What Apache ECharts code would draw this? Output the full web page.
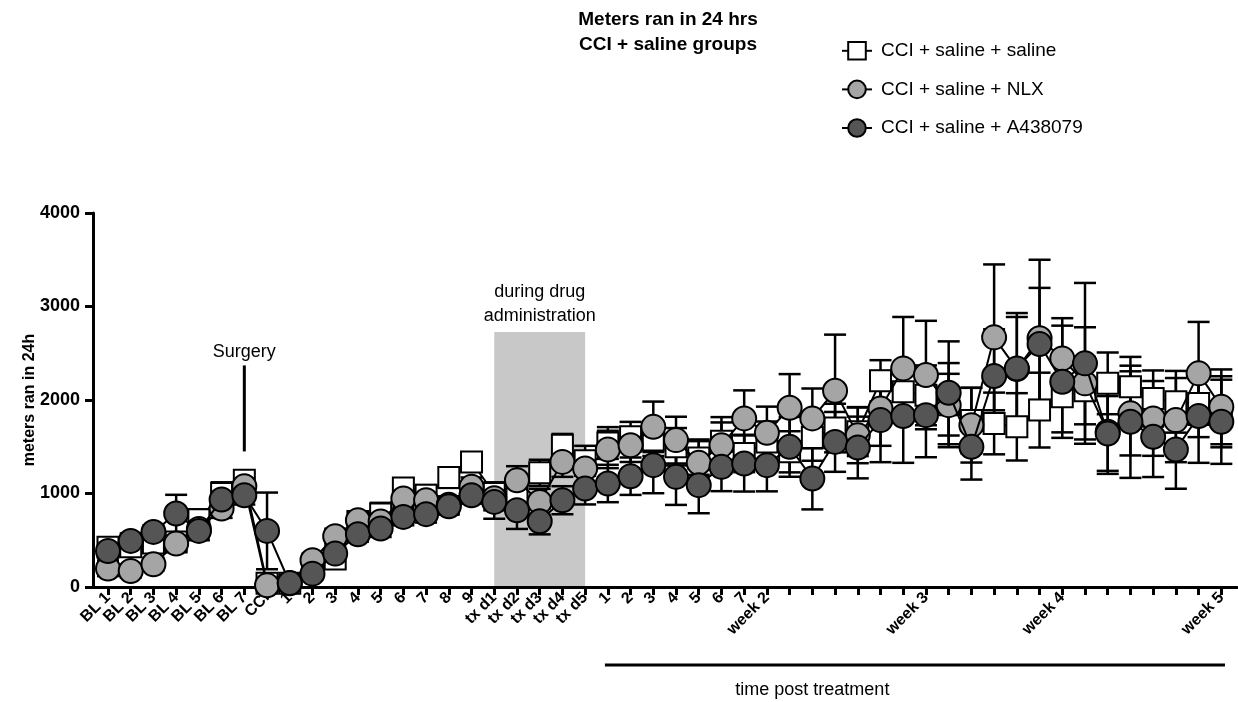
<!DOCTYPE html>
<html>
<head>
<meta charset="utf-8">
<script src="https://cdn.jsdelivr.net/npm/echarts@6/dist/echarts.min.js"></script>
<style>
html,body{margin:0;padding:0;background:#fff;}
#c{width:1238px;height:702px;}
</style>
</head>
<body>
<div id="c"></div>
<script>
// ---- data ----
const categories = [
  'BL 1','BL 2','BL 3','BL 4','BL 5','BL 6','BL 7','CCI',
  '1','2','3','4','5','6','7','8','9',
  'tx d1','tx d2','tx d3','tx d4','tx d5',
  '1','2','3','4','5','6','7','week 2',
  '','','','','','','week 3',
  '','','','','','week 4',
  '','','','','','','week 5'
];
const seriesNames = ['CCI + saline + saline', 'CCI + saline + NLX', 'CCI + saline + A438079'];
const yTicks = [0, 1000, 2000, 3000, 4000];
const salineMean = [425,430,470,482,720,1000,1142,40,40,230,300,700,780,1060,980,1170,1338,1000,1000,1221,1517,1350,
  1540,1606,1571,1500,1380,1560,1428,1550,1446,1600,1700,1660,2206,2088,2050,1950,1780,1749,1713,1892,2034,2100,2178,2141,2016,1981,1963,1874];
const salineErr = [80,70,90,100,110,120,80,60,60,90,90,110,120,100,110,110,100,120,130,140,120,160,
  170,160,170,200,180,200,200,220,220,250,260,260,220,300,320,330,350,330,360,400,380,360,330,320,300,330,360,380];
const nlxMean = [197,171,243,465,620,839,1078,18,40,286,543,714,700,946,928,880,1071,950,1142,910,1338,1268,
  1471,1517,1713,1571,1328,1517,1803,1649,1917,1803,2099,1624,1910,2338,2267,1945,1731,2670,2330,2660,2445,2178,1660,1857,1803,1785,2285,1927];
const nlxErr = [80,70,70,80,90,100,90,30,30,70,80,90,90,90,90,90,100,130,150,140,160,170,
  200,180,270,250,250,300,300,280,360,320,600,300,400,550,580,450,400,780,600,840,430,600,450,450,400,450,550,400];
const a438Mean = [385,493,589,786,600,936,982,600,43,143,357,564,625,750,779,864,982,910,821,703,928,1053,
  1107,1185,1303,1178,1089,1285,1321,1303,1499,1160,1552,1492,1785,1828,1838,2077,1499,2256,2338,2599,2195,2392,1642,1767,1606,1471,1828,1767];
const a438Err = [100,80,70,200,100,100,100,410,30,60,80,80,90,90,90,90,90,180,200,140,150,170,
  200,200,300,300,300,260,300,280,320,330,320,330,450,500,450,550,350,500,550,600,600,860,400,600,430,420,500,450];
const drugBand = [[17, 21, 2727]]; // start index, end index, top value

// ---- chart ----
const chart = echarts.init(document.getElementById('c'), null, {renderer: 'canvas'});
const idx = categories.map((_, i) => i);
const labelIdx = idx.filter(i => categories[i] !== '');
const FONT = '"Liberation Sans", Arial, Helvetica, sans-serif';

function toPts(arr) { return arr.map((v, i) => [i, v]); }
function toErr(m, e) { return m.map((v, i) => [i, v, e[i]]); }

function errRender(params, api) {
  const x = api.value(0), m = api.value(1), e = api.value(2);
  const top = api.coord([x, m + e]);
  const bot = api.coord([x, Math.max(0, m - e)]);
  const hw = 11;
  const st = {stroke: '#000', lineWidth: 2.5};
  return {
    type: 'group',
    children: [
      {type: 'line', shape: {x1: top[0], y1: top[1], x2: bot[0], y2: bot[1]}, style: st},
      {type: 'line', shape: {x1: top[0] - hw, y1: top[1], x2: top[0] + hw, y2: top[1]}, style: st},
      {type: 'line', shape: {x1: bot[0] - hw, y1: bot[1], x2: bot[0] + hw, y2: bot[1]}, style: st}
    ]
  };
}

const colors = ['#ffffff', '#a5a5a5', '#555555'];
const symbols = ['rect', 'circle', 'circle'];
const sizes = [21, 24, 24];
const means = [salineMean, nlxMean, a438Mean];
const errs = [salineErr, nlxErr, a438Err];

const series = [];
series.push({
  type: 'custom', name: 'band', z: 0, silent: true,
  data: drugBand,
  renderItem: function (params, api) {
    const p1 = api.coord([api.value(0), api.value(2)]);
    const p2 = api.coord([api.value(1), 0]);
    return {type: 'rect', shape: {x: p1[0], y: p1[1], width: p2[0] - p1[0], height: p2[1] - p1[1]}, style: {fill: '#c8c8c8'}};
  }
});
for (let k = 0; k < 3; k++) {
  series.push({
    type: 'custom', name: seriesNames[k] + ' err', z: 1, silent: true,
    data: toErr(means[k], errs[k]),
    encode: {x: 0, y: 1},
    renderItem: errRender
  });
}
for (let k = 0; k < 3; k++) {
  series.push({
    type: 'line', name: seriesNames[k], z: 2 + k,
    data: toPts(means[k]),
    symbol: symbols[k], symbolSize: sizes[k], showAllSymbol: true,
    lineStyle: {color: '#000', width: 2},
    itemStyle: {color: colors[k], borderColor: '#000', borderWidth: 2},
    emphasis: {disabled: true},
    animation: false
  });
}
series.push({
  type: 'custom', name: 'annot', z: 6, silent: true,
  data: [[0]],
  clip: false,
  renderItem: function (params, api) {
    const s1 = api.coord([6, 1450]), s2 = api.coord([6, 2370]);
    const sText = api.coord([6, 2513]);
    const d1 = api.coord([19, 3156]), d2 = api.coord([19, 2897]);
    const t1 = api.coord([21.87, 0]), t2 = api.coord([49.16, 0]);
    const tt = api.coord([31, 0]);
    const ts = {fill: '#000', font: '18px ' + FONT, align: 'center', verticalAlign: 'middle'};
    return {
      type: 'group',
      children: [
        {type: 'line', shape: {x1: s1[0], y1: s1[1], x2: s2[0], y2: s2[1]}, style: {stroke: '#000', lineWidth: 3}},
        {type: 'text', x: sText[0], y: sText[1], style: Object.assign({text: 'Surgery'}, ts)},
        {type: 'text', x: d1[0], y: d1[1], style: Object.assign({text: 'during drug'}, ts)},
        {type: 'text', x: d2[0], y: d2[1], style: Object.assign({text: 'administration'}, ts)},
        {type: 'line', shape: {x1: t1[0], y1: t1[1] + 78, x2: t2[0], y2: t2[1] + 78}, style: {stroke: '#000', lineWidth: 3}},
        {type: 'text', x: tt[0], y: tt[1] + 103, style: Object.assign({text: 'time post treatment'}, ts)}
      ]
    };
  }
});

chart.setOption({
  animation: false,
  textStyle: {fontFamily: FONT},
  graphic: [
    {type: 'text', x: 668, y: 20, style: {text: 'Meters ran in 24 hrs', fill: '#000', font: 'bold 19px ' + FONT, align: 'center', verticalAlign: 'middle'}},
    {type: 'text', x: 668, y: 45, style: {text: 'CCI + saline groups', fill: '#000', font: 'bold 19px ' + FONT, align: 'center', verticalAlign: 'middle'}}
  ],
  legend: {
    data: seriesNames,
    orient: 'vertical',
    left: 836, top: 36,
    itemWidth: 30, itemHeight: 22, itemGap: 19,
    textStyle: {fontSize: 19, color: '#000', fontFamily: FONT, padding: [0, 0, 0, 4]},
    selectedMode: false
  },
  grid: {left: 93, right: 1, top: 213, bottom: 115, containLabel: false, outerBoundsMode: 'none'},
  xAxis: {
    type: 'value', min: -0.66, max: 49.69,
    axisLine: {show: true, onZero: false, lineStyle: {color: '#000', width: 3}},
    axisTick: {show: true, customValues: idx, length: 8, lineStyle: {color: '#000', width: 3}},
    axisLabel: {
      show: true, customValues: labelIdx, rotate: 45, margin: 8,
      fontSize: 16, fontWeight: 'bold', color: '#000', fontFamily: FONT,
      formatter: function (v) { return categories[Math.round(v)]; }
    },
    splitLine: {show: false}
  },
  yAxis: {
    type: 'value', min: 0, max: 4000, interval: 1000,
    name: 'meters ran in 24h', nameLocation: 'middle', nameGap: 55, nameMoveOverlap: false,
    nameTextStyle: {fontSize: 16, fontWeight: 'bold', color: '#000', fontFamily: FONT},
    axisLine: {show: true, onZero: false, lineStyle: {color: '#000', width: 3}},
    axisTick: {show: true, customValues: yTicks, length: 8, lineStyle: {color: '#000', width: 3}},
    axisLabel: {fontSize: 18, fontWeight: 'bold', color: '#000', margin: 13, fontFamily: FONT,
      customValues: yTicks, formatter: function (v) { return String(v); }},
    splitLine: {show: false}
  },
  series: series
});
</script>
</body>
</html>
